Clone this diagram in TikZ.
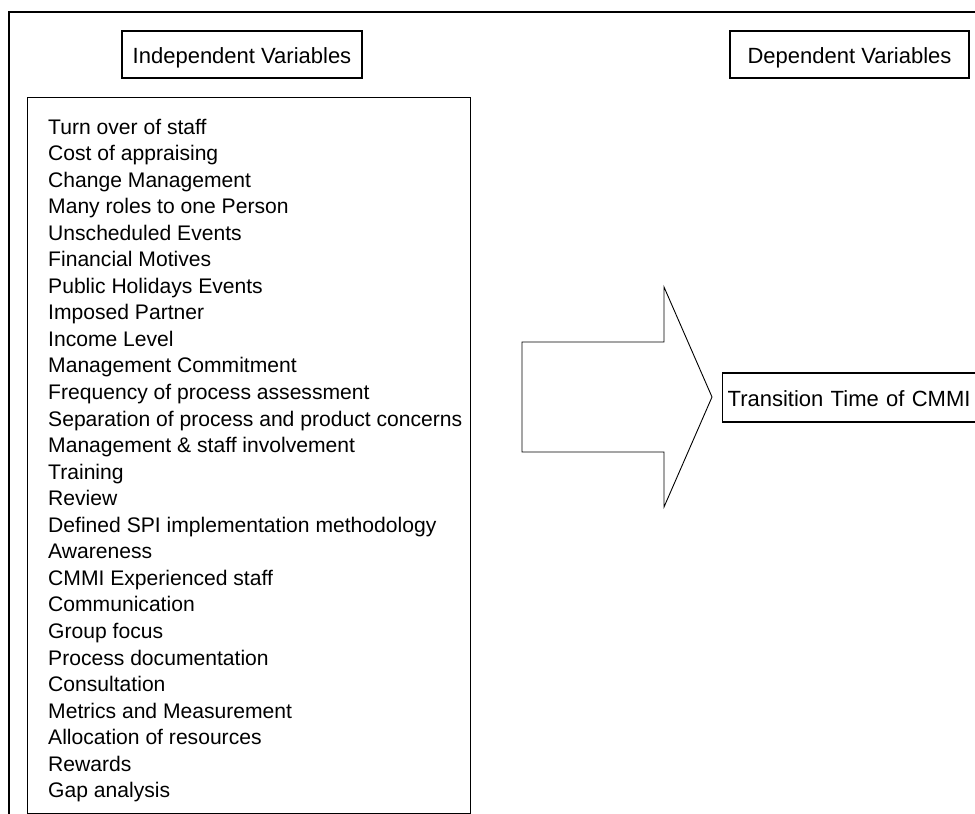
\documentclass[tikz,border=0pt]{standalone}
\usepackage{fontspec}
\setmainfont{Liberation Sans}
\begin{document}
\begin{tikzpicture}[x=1pt,y=-1pt,
  frame/.style={draw=black,line width=1.5pt},
  box/.style={draw=black,line width=1.3pt,inner sep=0pt},
  label/.style={box,font=\fontsize{22}{26}\selectfont,text height=17.5pt,text depth=0pt},
  flowarrow/.style={draw=black,line width=0.9pt,line join=miter}]
\useasboundingbox (0,0) rectangle (975,814);
\clip (0,0) rectangle (975,814);
\fill[white] (0,0) rectangle (975,814);

% outer frame, running past the right and bottom edges
\draw[frame] (9,12) rectangle (1000,840);

% column headings
\node[label,minimum width=240pt,minimum height=47pt] (indep) at (242,54.5) {Independent Variables};
\node[label,minimum width=239pt,minimum height=47pt] (dep) at (849.5,54.5) {Dependent Variables};

% box holding the list of factors
\node[box,minimum width=443pt,minimum height=716pt,anchor=north west] (ivbox) at (27,97) {};
\node[inner sep=0pt,anchor=base west,font=\fontsize{21.1}{26.55}\selectfont] (ivlist) at (48,134)
{\parbox[t]{420pt}{\raggedright
Turn over of staff\\
Cost of appraising\\
Change Management\\
Many roles to one Person\\
Unscheduled Events\\
Financial Motives\\
Public Holidays Events\\
Imposed Partner\\
Income Level\\
Management Commitment\\
Frequency of process assessment\\
Separation of process and product concerns\\
Management \& staff involvement\\
Training\\
Review\\
Defined SPI implementation methodology\\
Awareness\\
CMMI Experienced staff\\
Communication\\
Group focus\\
Process documentation\\
Consultation\\
Metrics and Measurement\\
Allocation of resources\\
Rewards\\
Gap analysis}};

% outcome box, running past the right edge
\node[label,anchor=west,minimum height=49pt,text width=262pt,align=left,inner xsep=5pt] (ttime) at (722,397.5) {Transition Time of CMMI};

% block arrow between the factors and the outcome
\coordinate (tail) at (522,397);
\coordinate (tip) at (712,397);
\draw[flowarrow] (tail |- 0,342) -- (664,342) -- (664,287) -- (tip) -- (664,507) -- (664,452) -- (tail |- 0,452) -- cycle;
\end{tikzpicture}
\end{document}
